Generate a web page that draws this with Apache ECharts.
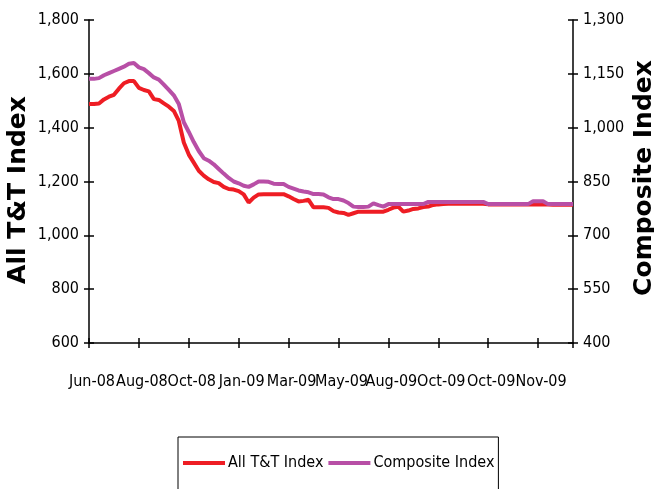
<!DOCTYPE html>
<html>
<head>
<meta charset="utf-8">
<script src="https://cdn.jsdelivr.net/npm/echarts@6/dist/echarts.min.js"></script>
<style>
html,body{margin:0;padding:0;background:#fff;}
#chart{width:654px;height:489px;}
</style>
</head>
<body>
<div id="chart"></div>
<script>
var tickLabels = ['Jun-08','Aug-08','Oct-08','Jan-09','Mar-09','May-09','Aug-09','Oct-09','Oct-09','Nov-09'];

var allTT = [
1488,1488,1490,1505,1515,1522,1545,1565,1573,1573,
1548,1540,1535,1506,1503,1490,1478,1462,1425,1345,
1300,1270,1240,1222,1208,1198,1194,1180,1172,1170,
1164,1152,1122,1140,1152,1153,1153,1153,1153,1153,
1145,1135,1126,1128,1132,1104,1104,1104,1102,1090,
1085,1083,1076,1082,1088,1088,1088,1088,1088,1088,
1095,1103,1106,1088,1092,1098,1100,1105,1107,1113,
1115,1116,1117,1117,1117,1117,1117,1117,1117,1117,
1115,1115,1115,1115,1115,1115,1115,1115,1115,1115,
1115,1115,1115,1114,1114,1114,1114,1114
];

var composite = [
1136,1136,1138,1146,1152,1158,1164,1170,1178,1180,
1168,1163,1152,1140,1134,1120,1105,1090,1066,1015,
988,960,935,915,908,898,885,872,860,850,
845,838,835,842,850,850,849,844,843,843,
835,830,825,822,820,815,815,814,806,801,
801,797,790,780,779,779,780,789,784,780,
787,787,787,787,787,787,787,787,793,793,
793,793,793,793,793,793,793,793,793,793,
787,787,787,787,787,787,787,787,787,795,
795,795,787,787,787,787,787,787
];

var seriesNames = ['All T&T Index','Composite Index'];
var colors = ['#EE1D24','#B84FA6'];

var idx = allTT.map(function(_, i){ return i; });
var font = "'DejaVu Sans Condensed','Liberation Sans Narrow',sans-serif";
var axisLine = {show:true, lineStyle:{color:'#000', width:1.5}};
var tickOut = {show:true, length:5, inside:false, lineStyle:{color:'#000', width:1.5}};
var tickIn = {show:true, length:5, inside:true, lineStyle:{color:'#000', width:1.5}};

var chart = echarts.init(document.getElementById('chart'), null, {renderer:'canvas'});
chart.setOption({
  backgroundColor:'#fff',
  animation:false,
  grid:{left:89, right:81, top:20, bottom:146, containLabel:false},
  legend:{
    left:178, top:437,
    data:[{name:seriesNames[0], icon:'rect'},{name:seriesNames[1], icon:'rect'}],
    itemWidth:42, itemHeight:4, itemGap:5,
    borderColor:'#000', borderWidth:1, borderRadius:0,
    padding:[18,4,40,5],
    textStyle:{fontFamily:font, fontSize:16, color:'#000', padding:[0,0,0,-2]}
  },
  xAxis:[{
    type:'category', data:idx, boundaryGap:false,
    axisLine:axisLine,
    axisTick:{show:true, length:5, inside:false, interval:9, lineStyle:{color:'#000', width:1.5}},
    axisLabel:{interval:9, margin:31, fontFamily:font, fontSize:16, color:'#000',
      width:40, overflow:'none', padding:[0,0,0,6],
      hideOverlap:false, showMinLabel:true, showMaxLabel:true,
      formatter:function(v, i){ return i % 10 === 0 ? (tickLabels[i/10] || '') : ''; }},
    splitLine:{show:false}
  },{
    type:'category', data:idx, boundaryGap:false, position:'bottom',
    axisLine:{show:false},
    axisTick:{show:true, length:5, inside:true, interval:9, lineStyle:{color:'#000', width:1.5}},
    axisLabel:{show:false}, splitLine:{show:false}
  }],
  yAxis:[{
    type:'value', position:'left', min:600, max:1800, interval:200,
    axisLine:axisLine, axisTick:tickOut, splitLine:{show:false},
    axisLabel:{margin:10, fontFamily:font, fontSize:16, color:'#000',
      formatter:function(v){ return v.toLocaleString('en-US'); }}
  },{
    type:'value', position:'right', min:400, max:1300, interval:150,
    axisLine:axisLine, axisTick:tickOut, splitLine:{show:false},
    axisLabel:{margin:10, fontFamily:font, fontSize:16, color:'#000',
      formatter:function(v){ return v.toLocaleString('en-US'); }}
  },{
    type:'value', position:'left', min:600, max:1800, interval:200,
    axisLine:{show:false}, axisTick:tickIn, splitLine:{show:false}, axisLabel:{show:false}
  },{
    type:'value', position:'right', min:400, max:1300, interval:150,
    axisLine:{show:false}, axisTick:tickIn, splitLine:{show:false}, axisLabel:{show:false}
  }],
  graphic:[{
    type:'text', x:18, y:190, rotation:Math.PI/2,
    style:{text:'All T&T Index', font:"bold 25px 'DejaVu Sans'", fill:'#000', align:'center', verticalAlign:'middle'}
  },{
    type:'text', x:644, y:178, rotation:Math.PI/2,
    style:{text:'Composite Index', font:"bold 25px 'DejaVu Sans'", fill:'#000', align:'center', verticalAlign:'middle'}
  }],
  series:[{
    name:seriesNames[0], type:'line', xAxisIndex:0, yAxisIndex:0, data:allTT,
    showSymbol:false, symbol:'none', lineStyle:{color:colors[0], width:4}, itemStyle:{color:colors[0]}
  },{
    name:seriesNames[1], type:'line', xAxisIndex:0, yAxisIndex:1, data:composite,
    showSymbol:false, symbol:'none', lineStyle:{color:colors[1], width:4}, itemStyle:{color:colors[1]}
  }]
});
</script>
</body>
</html>
